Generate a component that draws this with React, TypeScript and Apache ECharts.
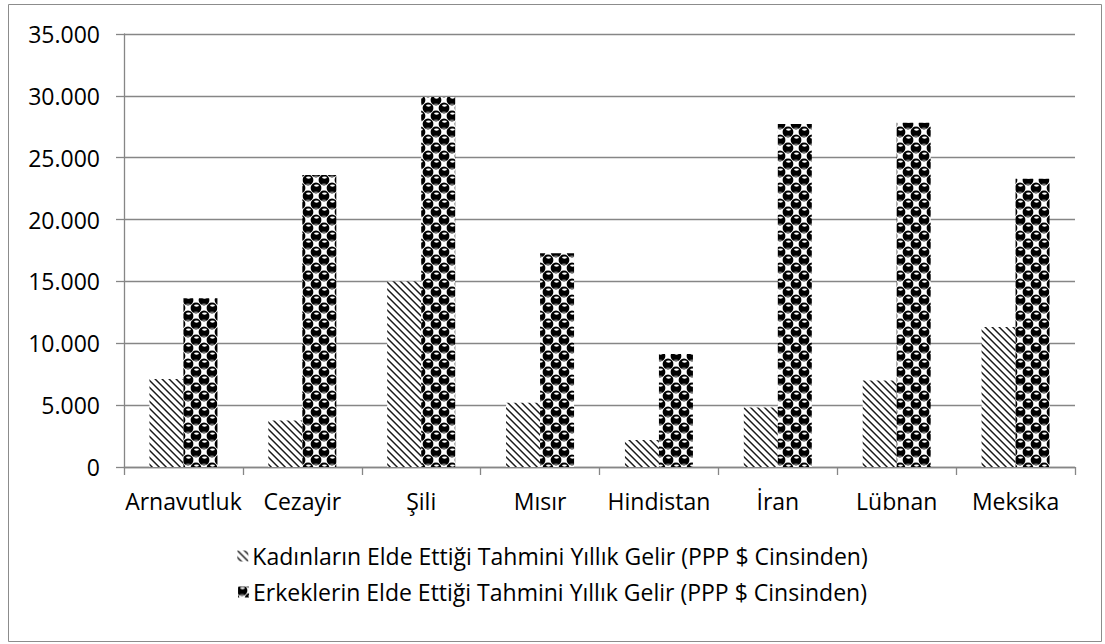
import React, { useEffect, useRef } from "react";
import * as echarts from "echarts";

const categories = ["Arnavutluk", "Cezayir", "Şili", "Mısır", "Hindistan", "İran", "Lübnan", "Meksika"];
const womenIncome = [7120, 3760, 15000, 5190, 2180, 4810, 6990, 11310];
const menIncome = [13650, 23600, 29900, 17280, 9140, 27720, 27830, 23290];
const seriesNames = [
  "Kadınların Elde Ettiği Tahmini Yıllık Gelir (PPP $ Cinsinden)",
  "Erkeklerin Elde Ettiği Tahmini Yıllık Gelir (PPP $ Cinsinden)",
];
const yTicks = { min: 0, max: 35000, interval: 5000 };

const FONT = "'Open Sans', 'Noto Sans', sans-serif";
const FS = 23;

function stripeCanvas(): HTMLCanvasElement {
  const c = document.createElement("canvas");
  c.width = 7;
  c.height = 7;
  const ctx = c.getContext("2d")!;
  ctx.fillStyle = "#ffffff";
  ctx.fillRect(0, 0, 7, 7);
  for (let y = 0; y < 7; y++) {
    for (let x = 0; x < 7; x++) {
      const d = (((x - y) % 7) + 7) % 7;
      if (d === 0) {
        ctx.fillStyle = "#1a1a1a";
        ctx.fillRect(x, y, 1, 1);
      } else if (d === 1) {
        ctx.fillStyle = "#707070";
        ctx.fillRect(x, y, 1, 1);
      } else if (d === 6) {
        ctx.fillStyle = "#9a9a9a";
        ctx.fillRect(x, y, 1, 1);
      }
    }
  }
  return c;
}

function ballCanvas(): HTMLCanvasElement {
  const s = 16;
  const c = document.createElement("canvas");
  c.width = s;
  c.height = s;
  const ctx = c.getContext("2d")!;
  ctx.fillStyle = "#ffffff";
  ctx.fillRect(0, 0, s, s);
  const centers = [
    [4, 4],
    [12, 12],
  ];
  const pts: number[][] = [];
  for (const [cx, cy] of centers) {
    for (const dx of [-s, 0, s]) {
      for (const dy of [-s, 0, s]) {
        pts.push([cx + dx, cy + dy]);
      }
    }
  }
  for (const [x, y] of pts) {
    ctx.fillStyle = "#000000";
    ctx.beginPath();
    ctx.arc(x, y, 5.4, 0, Math.PI * 2);
    ctx.fill();
  }
  for (const [x, y] of pts) {
    ctx.fillStyle = "#ffffff";
    ctx.beginPath();
    ctx.ellipse(x + 0.5, y - 2.4, 2.4, 1.1, 0, 0, Math.PI * 2);
    ctx.fill();
    ctx.fillStyle = "#7a7a7a";
    ctx.beginPath();
    ctx.ellipse(x, y + 4.2, 2.6, 0.8, 0, 0, Math.PI * 2);
    ctx.fill();
  }
  return c;
}

export default function App() {
  const ref = useRef<HTMLDivElement>(null);

  useEffect(() => {
    if (!ref.current) return;
    const chart = echarts.init(ref.current, undefined, { renderer: "svg" });
    const stripes = stripeCanvas();
    const balls = ballCanvas();
    const stripePattern: any = { image: stripes, repeat: "repeat", imageWidth: 7, imageHeight: 7 };
    const ballPattern: any = { image: balls, repeat: "repeat", imageWidth: 16, imageHeight: 16 };

    const legendBase = {
      left: "center",
      orient: "horizontal" as const,
      icon: "rect",
      itemWidth: 11,
      itemHeight: 11,
      itemGap: 4,
      textStyle: { fontFamily: FONT, fontSize: FS, color: "#000", lineHeight: 26, padding: [0, 0, 0, -1] },
      selectedMode: false,
    };

    chart.setOption({
      animation: false,
      backgroundColor: "#ffffff",
      textStyle: { fontFamily: FONT },
      graphic: [
        {
          type: "rect",
          shape: { x: 8.5, y: 4.5, width: 1093, height: 637 },
          style: { fill: "none", stroke: "#8c8c8c", lineWidth: 1 },
          silent: true,
        },
      ],
      grid: { left: 124, right: 30, top: 34, bottom: 177, containLabel: false },
      legend: [
        { ...legendBase, top: 538, data: [seriesNames[0]] },
        { ...legendBase, top: 574, data: [seriesNames[1]] },
      ],
      xAxis: {
        type: "category",
        data: categories,
        axisLine: { show: true, lineStyle: { color: "#868686", width: 1.3 } },
        axisTick: { show: true, length: 8, lineStyle: { color: "#868686", width: 1.3 } },
        axisLabel: { color: "#000", fontSize: FS, fontFamily: FONT, margin: 22, interval: 0 },
        splitLine: { show: false },
      },
      yAxis: {
        type: "value",
        min: yTicks.min,
        max: yTicks.max,
        interval: yTicks.interval,
        axisLine: { show: true, lineStyle: { color: "#868686", width: 1.3 } },
        axisTick: { show: true, inside: false, length: 8, lineStyle: { color: "#868686", width: 1.3 } },
        axisLabel: {
          color: "#000",
          fontSize: FS,
          fontFamily: FONT,
          margin: 24,
          formatter: (v: number) => (v === 0 ? "0" : v.toLocaleString("de-DE")),
        },
        splitLine: { show: true, lineStyle: { color: "#868686", width: 1.3 } },
      },
      series: [
        {
          name: seriesNames[0],
          type: "bar",
          data: womenIncome,
          barWidth: 34,
          barGap: "0%",
          itemStyle: { color: stripePattern },
        },
        {
          name: seriesNames[1],
          type: "bar",
          data: menIncome,
          barWidth: 34,
          barGap: "0%",
          itemStyle: { color: ballPattern },
        },
      ],
    });
    return () => chart.dispose();
  }, []);

  return (
    <div
      ref={ref}
      style={{ position: "absolute", left: 0, top: 0, width: 1105, height: 644, background: "#fff" }}
    />
  );
}
